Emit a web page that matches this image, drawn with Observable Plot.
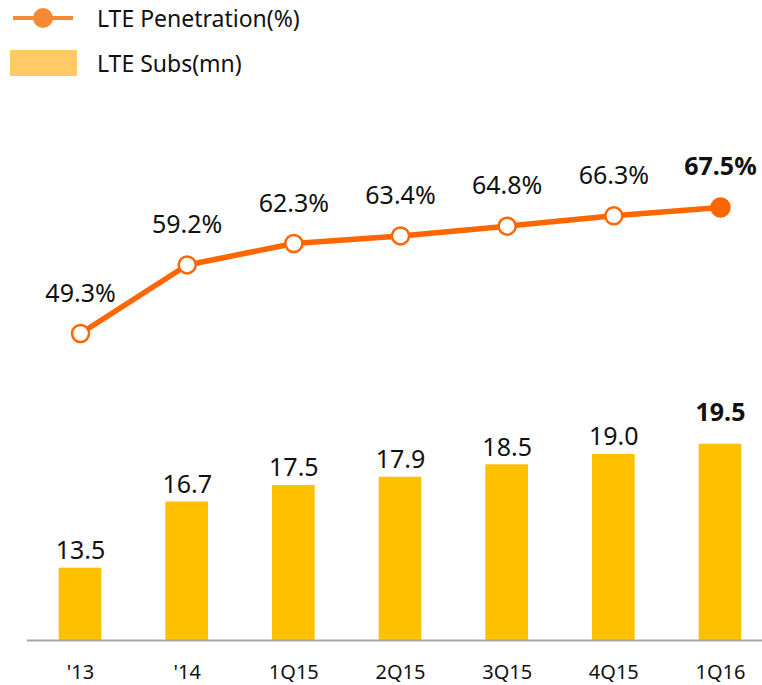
<!DOCTYPE html>
<html>
<head>
<meta charset="utf-8">
<script src="https://cdn.jsdelivr.net/npm/d3@7"></script>
<script src="https://cdn.jsdelivr.net/npm/@observablehq/plot@0.6"></script>
<style>
  html, body { margin: 0; padding: 0; background: #fff; }
  body { width: 762px; height: 685px; position: relative; overflow: hidden; font-family: "Noto Sans", "Open Sans", sans-serif; }
  #legend { position: absolute; left: 0; top: 0; width: 762px; height: 90px; }
  .lg-row { position: absolute; left: 0; height: 30px; display: flex; align-items: center; }
  .lg-row span { position: absolute; left: 97px; font-size: 23px; color: #111; white-space: nowrap; }
  #line { position: absolute; left: 0; top: 90px; }
  #bars { position: absolute; left: 0; top: 380px; }
  svg { overflow: visible; }
</style>
</head>
<body>
<div id="legend">
  <div class="lg-row" style="top:3px;">
    <svg width="90" height="30"><line x1="13" x2="73" y1="15" y2="15" stroke="#F58A33" stroke-width="4"/><circle cx="43" cy="15" r="10" fill="#F58A33"/></svg>
    <span>LTE Penetration(%)</span>
  </div>
  <div class="lg-row" style="top:48px;">
    <svg width="90" height="30"><rect x="10" y="2" width="67" height="26" fill="#FFC966"/></svg>
    <span>LTE Subs(mn)</span>
  </div>
</div>
<div id="line"></div>
<div id="bars"></div>
<script>
const categories = ["'13", "'14", "1Q15", "2Q15", "3Q15", "4Q15", "1Q16"];
const penetration = [49.3, 59.2, 62.3, 63.4, 64.8, 66.3, 67.5];
const subs = [13.5, 16.7, 17.5, 17.9, 18.5, 19.0, 19.5];

const rows = categories.map((c, i) => ({cat: c, pen: penetration[i], subs: subs[i], last: i === categories.length - 1}));

const orange = "#FF6600";
const gold = "#FFC000";
const font = "\"Noto Sans\", \"Open Sans\", sans-serif";

const xScale = {type: "band", domain: categories, range: [26.7, 773.3], paddingInner: 0.6, paddingOuter: 0.3, round: false, axis: null};

const linePlot = Plot.plot({
  width: 762,
  height: 290,
  marginLeft: 27, marginRight: 0, marginTop: 0, marginBottom: 0,
  style: {fontFamily: font, background: "transparent", overflow: "visible"},
  x: xScale,
  y: {domain: [49.3, 67.5], range: [243, 117], axis: null},
  marks: [
    Plot.line(rows, {x: "cat", y: "pen", stroke: orange, strokeWidth: 5.5}),
    Plot.dot(rows.filter(d => !d.last), {x: "cat", y: "pen", r: 8.5, fill: "white", stroke: orange, strokeWidth: 2.5}),
    Plot.dot(rows.filter(d => d.last), {x: "cat", y: "pen", r: 9.5, fill: orange, stroke: orange}),
    Plot.text(rows.filter(d => !d.last), {x: "cat", y: "pen", text: d => d.pen.toFixed(1) + "%", dy: -40, fontSize: 25, fill: "#111"}),
    Plot.text(rows.filter(d => d.last), {x: "cat", y: "pen", text: d => d.pen.toFixed(1) + "%", dy: -41, fontSize: 25, fontWeight: "bold", fill: "#111"})
  ]
});
document.getElementById("line").appendChild(linePlot);

const barPlot = Plot.plot({
  width: 762,
  height: 305,
  marginLeft: 27, marginRight: 0, marginTop: 0, marginBottom: 45,
  style: {fontFamily: font, background: "transparent", overflow: "visible"},
  x: xScale,
  y: {domain: [10, 20], range: [260, 53.3], axis: null},
  marks: [
    Plot.barY(rows, {x: "cat", y1: 10, y2: "subs", fill: gold}),
    Plot.ruleY([10], {stroke: "#A6A6A6", strokeWidth: 2}),
    Plot.text(rows.filter(d => !d.last), {x: "cat", y: "subs", text: d => d.subs.toFixed(1), dy: -17, fontSize: 25, fill: "#111"}),
    Plot.text(rows.filter(d => d.last), {x: "cat", y: "subs", text: d => d.subs.toFixed(1), dy: -31, fontSize: 25, fontWeight: "bold", fill: "#111"}),
    Plot.axisX({tickSize: 0, tickPadding: 24, fontSize: 20, fill: "#111", label: null})
  ]
});
document.getElementById("bars").appendChild(barPlot);
</script>
</body>
</html>
